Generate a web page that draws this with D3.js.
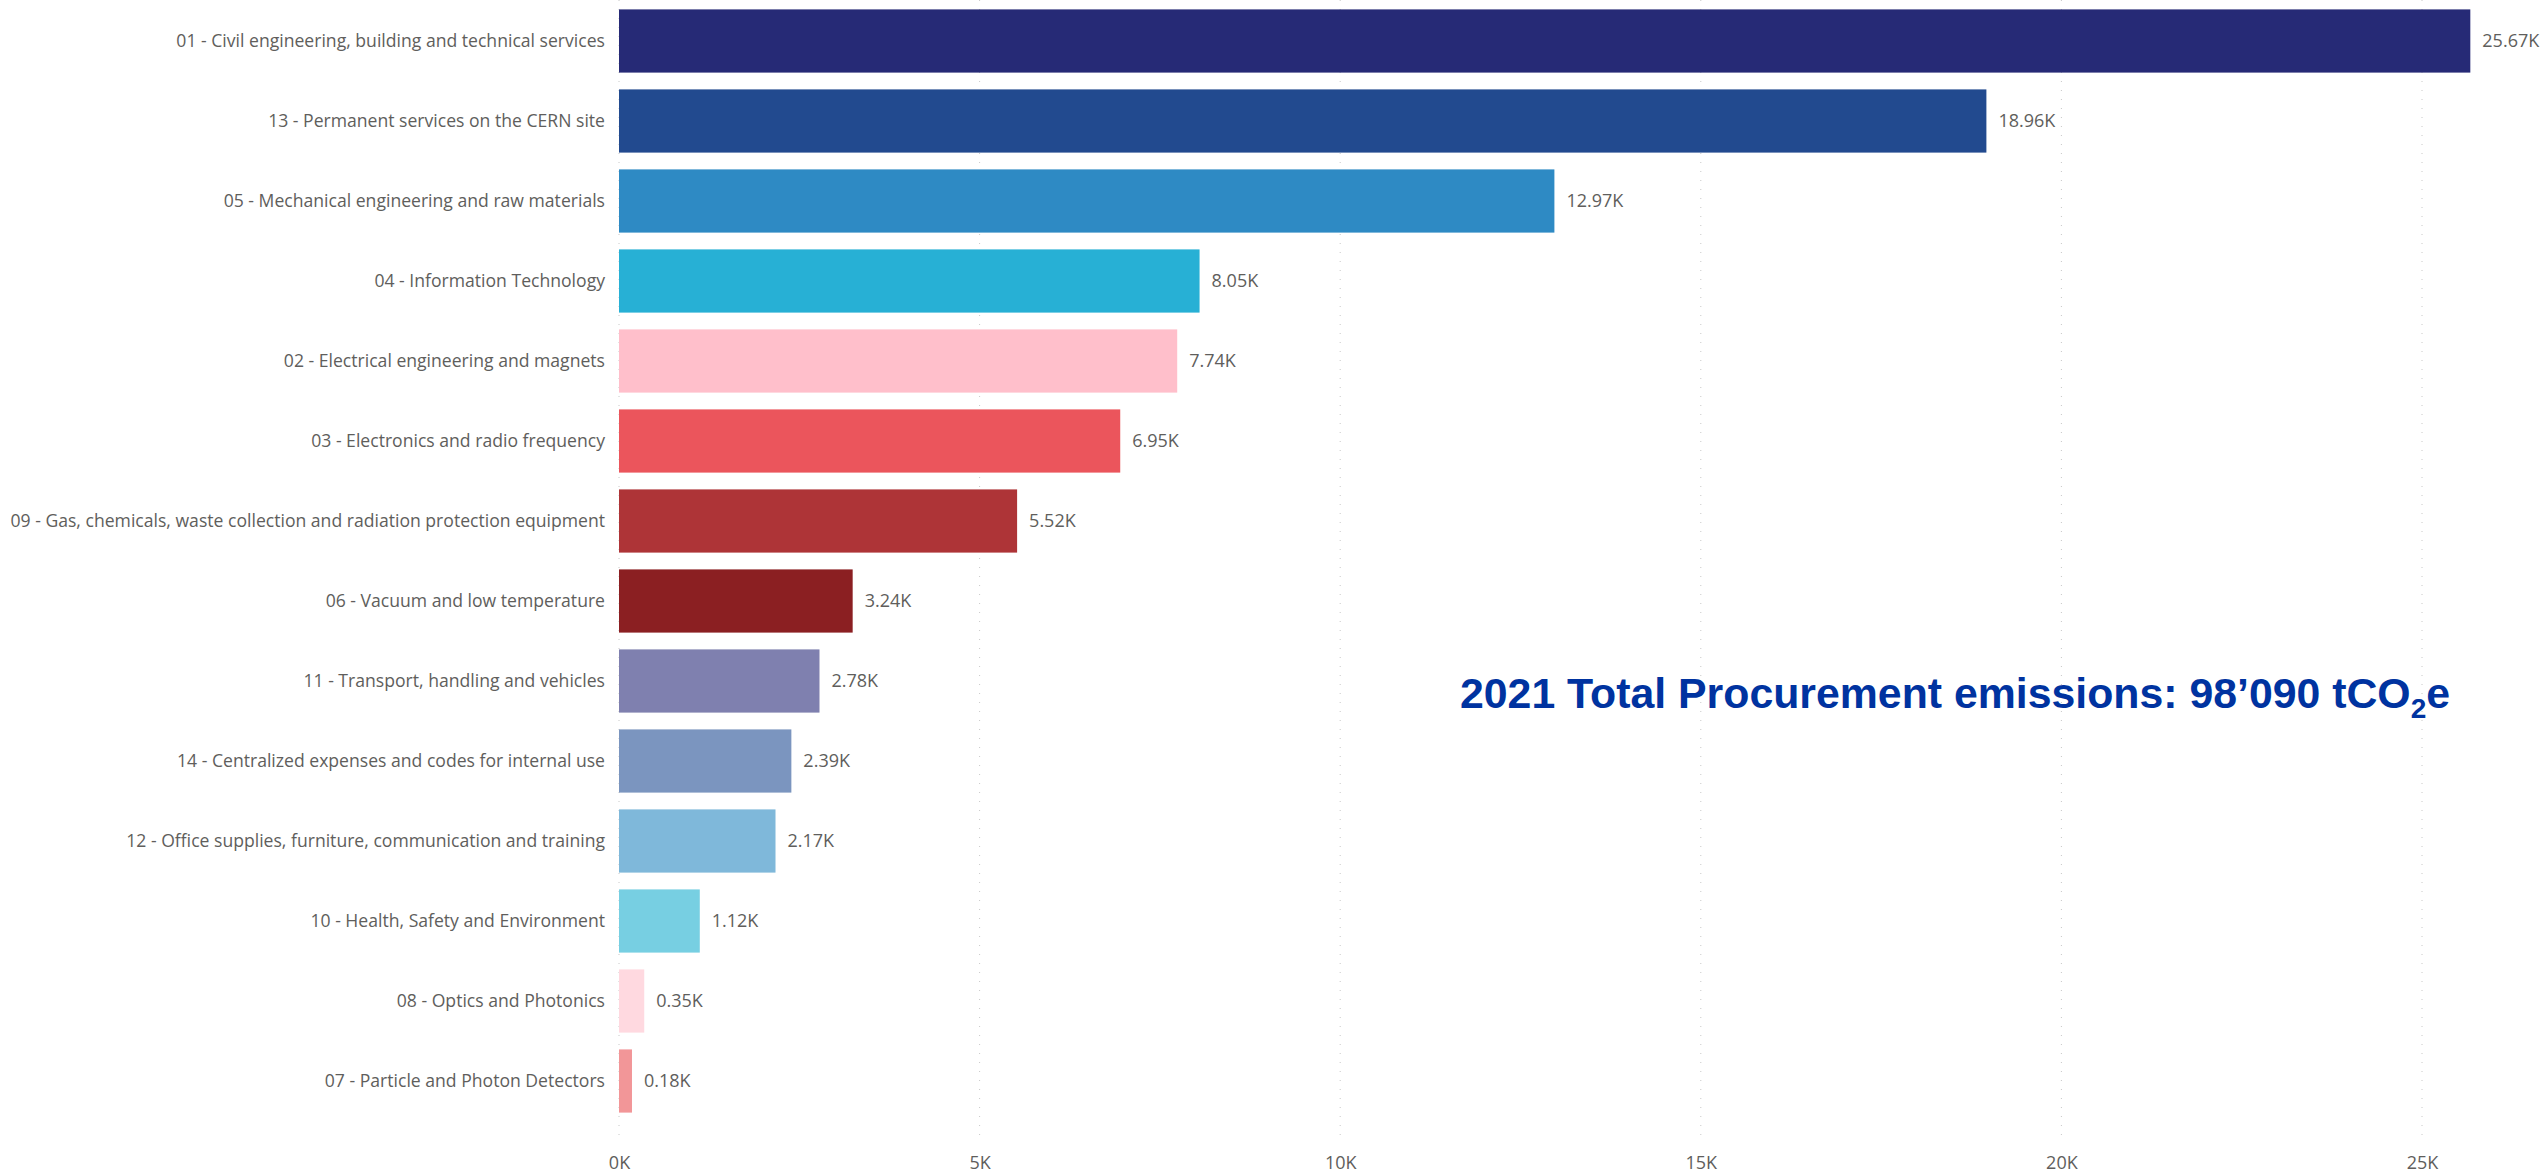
<!DOCTYPE html>
<html>
<head>
<meta charset="utf-8">
<script src="https://cdn.jsdelivr.net/npm/d3@7"></script>
<style>
  body { margin: 0; background: #fff; }
  text { font-family: "Segoe UI", "Open Sans", sans-serif; }
</style>
</head>
<body>
<div id="viz"></div>
<script>
// categories, top to bottom
var categories = [
  "01 - Civil engineering, building and technical services",
  "13 - Permanent services on the CERN site",
  "05 - Mechanical engineering and raw materials",
  "04 - Information Technology",
  "02 - Electrical engineering and magnets",
  "03 - Electronics and radio frequency",
  "09 - Gas, chemicals, waste collection and radiation protection equipment",
  "06 - Vacuum and low temperature",
  "11 - Transport, handling and vehicles",
  "14 - Centralized expenses and codes for internal use",
  "12 - Office supplies, furniture, communication and training",
  "10 - Health, Safety and Environment",
  "08 - Optics and Photonics",
  "07 - Particle and Photon Detectors"
];
// emissions in thousands of tCO2e
var values = [25.67, 18.96, 12.97, 8.05, 7.74, 6.95, 5.52, 3.24, 2.78, 2.39, 2.17, 1.12, 0.35, 0.18];
var colors = ["#262A76", "#224A8F", "#2E8AC4", "#27B0D5", "#FFBFCB", "#EB555C", "#AE3437",
              "#8B1F22", "#7F80AF", "#7B95BF", "#7FB8DA", "#77CFE2", "#FFD9E0", "#F29698"];
var xTicks = [0, 5, 10, 15, 20, 25];

var width = 2542, height = 1174;
var margin = {top: 1, right: 120, bottom: 52, left: 619};

var svg = d3.select("#viz")
    .append("svg")
    .attr("width", width)
    .attr("height", height);

var x = d3.scaleLinear()
    .domain([0, 25])
    .range([margin.left, 2422]);

var y = d3.scaleBand()
    .domain(categories)
    .range([margin.top, 1121])
    .paddingInner(0.21)
    .paddingOuter(0.105);

// dotted gridlines
svg.append("g")
  .selectAll("line")
  .data(xTicks)
  .join("line")
    .attr("x1", d => x(d))
    .attr("x2", d => x(d))
    .attr("y1", 0)
    .attr("y2", 1140)
    .attr("stroke", "#c8c8c8")
    .attr("stroke-width", 1)
    .attr("stroke-dasharray", "1,8");

// bars
svg.append("g")
  .selectAll("rect")
  .data(values)
  .join("rect")
    .attr("x", x(0))
    .attr("y", (d, i) => y(categories[i]))
    .attr("width", d => x(d) - x(0))
    .attr("height", y.bandwidth())
    .attr("fill", (d, i) => colors[i]);

// data labels
svg.append("g")
  .selectAll("text")
  .data(values)
  .join("text")
    .attr("x", d => x(d) + 12)
    .attr("y", (d, i) => y(categories[i]) + y.bandwidth() / 2)
    .attr("dy", "0.35em")
    .attr("font-size", 18)
    .attr("fill", "#605E5C")
    .text(d => d3.format(".2f")(d) + "K");

// category axis
var yAxis = svg.append("g")
    .attr("transform", "translate(" + (x(0) - 4) + ",0)")
    .call(d3.axisLeft(y).tickSize(0).tickPadding(10));
yAxis.select(".domain").remove();
yAxis.selectAll("text")
    .attr("font-size", 17.6)
    .attr("fill", "#605E5C");

// value axis
var xAxis = svg.append("g")
    .attr("transform", "translate(0,1150)")
    .call(d3.axisBottom(x).tickValues(xTicks).tickSize(0).tickPadding(6)
      .tickFormat(d => d + "K"));
xAxis.select(".domain").remove();
xAxis.selectAll("text")
    .attr("font-size", 18)
    .attr("fill", "#605E5C");

// total annotation
var title = svg.append("text")
    .attr("x", 1460)
    .attr("y", 708)
    .attr("fill", "#0033A0")
    .attr("font-weight", "bold")
    .attr("font-size", 42.8)
    .style("font-family", "'Liberation Sans', Arial, sans-serif");
title.append("tspan").text("2021 Total Procurement emissions: 98\u2019090 tCO");
title.append("tspan").attr("font-size", 28).attr("dy", 10).text("2");
title.append("tspan").attr("dy", -10).text("e");
</script>
</body>
</html>
